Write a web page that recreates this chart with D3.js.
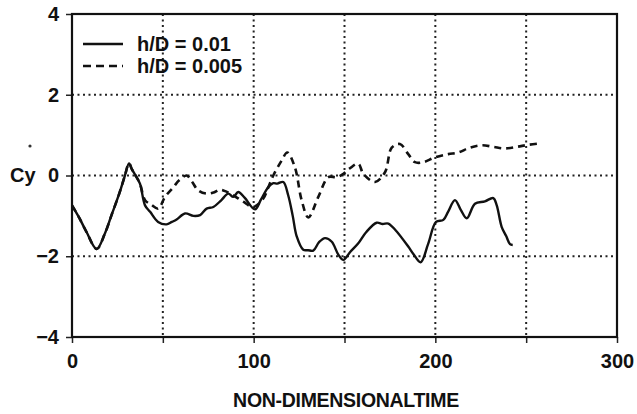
<!DOCTYPE html>
<html><head><meta charset="utf-8">
<script src="https://cdn.jsdelivr.net/npm/d3@7"></script>
<style>body{margin:0;background:#fff}svg{display:block}text{font-family:"Liberation Sans",Arial,sans-serif;font-weight:bold;fill:#111}</style>
</head><body><svg id="c" width="637" height="414"></svg>
<script>
const xTicks = [0, 100, 200, 300];
const yTicks = [-4, -2, 0, 2, 4];
const xGrid = [50, 100, 150, 200, 250];
const yGrid = [-2, 0, 2];
const seriesNames = ["h/D = 0.01", "h/D = 0.005"];
const solidT = [0,4,8,13.6,18,22,26,29,31.4,33,35,37.4,40.2,43,47.4,52,55,57.6,62.2,66.8,70.5,74.1,77.8,82,86,88.8,91.5,95,100.7,104,108,110.8,113,116.3,119,121.5,123.7,127.3,130,132.8,136,139.3,143,146.6,149.4,153,157.6,162,167.7,171,174.1,178,185.1,188,191.9,196,200.4,204.4,207,210.8,214,217.3,221.8,227.3,231.9,233.8,236.5,239,241.1,242.6];
const solidV = [-0.74,-1.05,-1.4,-1.82,-1.45,-0.95,-0.45,-0.02,0.30,0.15,0.0,-0.2,-0.74,-0.9,-1.15,-1.21,-1.15,-1.09,-0.94,-1.0,-0.98,-0.82,-0.78,-0.62,-0.45,-0.53,-0.41,-0.55,-0.84,-0.6,-0.29,-0.19,-0.2,-0.16,-0.49,-1.0,-1.51,-1.84,-1.85,-1.86,-1.65,-1.55,-1.64,-1.96,-2.09,-1.9,-1.68,-1.4,-1.17,-1.2,-1.19,-1.35,-1.76,-1.95,-2.15,-1.7,-1.15,-1.1,-0.9,-0.61,-0.85,-1.06,-0.7,-0.64,-0.56,-0.74,-1.27,-1.5,-1.7,-1.72];
const dashT = [0,4,8,13.6,18,22,26,29,31.4,33,35,37.4,40.2,43.5,47.5,51.2,55.8,59,63.1,66,69.5,74.1,78,81.5,85,88.8,94.3,99.8,105.3,108,110.8,115.4,118.5,122.7,126.4,130.1,135.6,141.1,145.7,149.4,153,157.6,160.4,166.8,172.3,176,180.5,185.1,188.8,193.4,199.8,207.1,212.6,219,225.5,231.9,238.3,244.8,251.2,258.5];
const dashV = [-0.74,-1.05,-1.4,-1.82,-1.45,-0.95,-0.45,-0.02,0.30,0.15,0.0,-0.2,-0.61,-0.72,-0.82,-0.53,-0.29,-0.12,0.0,-0.15,-0.37,-0.45,-0.42,-0.35,-0.4,-0.49,-0.65,-0.78,-0.57,-0.3,0.0,0.37,0.57,0.2,-0.61,-1.04,-0.53,-0.04,-0.04,0.04,0.18,0.29,0.04,-0.16,0.08,0.69,0.78,0.53,0.33,0.33,0.45,0.53,0.57,0.69,0.75,0.71,0.67,0.71,0.76,0.8];

const svg = d3.select("#c");
const x = d3.scaleLinear().domain([0,300]).range([72,617]);
const y = d3.scaleLinear().domain([-4,4]).range([337,14]);

// grid
svg.append("g").selectAll("line").data(xGrid).join("line")
  .attr("x1",d=>x(d)).attr("x2",d=>x(d)).attr("y1",y(4)).attr("y2",y(-4))
  .attr("stroke","#222").attr("stroke-width",2).attr("stroke-dasharray","2,3.5");
svg.append("g").selectAll("line").data(yGrid).join("line")
  .attr("x1",x(0)).attr("x2",x(300)).attr("y1",d=>y(d)).attr("y2",d=>y(d))
  .attr("stroke","#222").attr("stroke-width",2).attr("stroke-dasharray","2,3.5");

// axes
const xAxis = d3.axisBottom(x).tickValues(d3.range(0,301,50)).tickSize(6).tickFormat(d=>xTicks.includes(d)?d:"");
const gx = svg.append("g").attr("transform",`translate(0,${y(-4)})`).call(xAxis);
gx.select(".domain").remove();
gx.selectAll(".tick line").attr("stroke","#222").attr("stroke-width",1.5);
gx.selectAll(".tick text").attr("dy","0").attr("y",31).style("font-size","20px").style("font-family","Liberation Sans, Arial").style("font-weight","bold").attr("fill","#111");

const yAxis = d3.axisLeft(y).tickValues(yTicks).tickSize(6).tickFormat(d=>d<0?"\u2212"+Math.abs(d):d);
const gy = svg.append("g").attr("transform",`translate(${x(0)},0)`).call(yAxis);
gy.select(".domain").remove();
gy.selectAll(".tick line").attr("stroke","#222").attr("stroke-width",1.5);
gy.selectAll(".tick text").attr("x",-13).style("font-size","20px").style("font-family","Liberation Sans, Arial").style("font-weight","bold").attr("fill","#111");

// frame
svg.append("rect").attr("x",x(0)).attr("y",y(4)).attr("width",x(300)-x(0)).attr("height",y(-4)-y(4))
  .attr("fill","none").attr("stroke","#111").attr("stroke-width",2.2);

// lines
const line = (ts,vs)=>d3.line().x((d,i)=>x(ts[i])).y((d,i)=>y(vs[i])).curve(d3.curveCatmullRom.alpha(0.5))(ts);
svg.append("path").attr("d",line(dashT,dashV)).attr("fill","none").attr("stroke","#111").attr("stroke-width",2.6).attr("stroke-dasharray","7,5");
svg.append("path").attr("d",line(solidT,solidV)).attr("fill","none").attr("stroke","#111").attr("stroke-width",2.4);

// labels
svg.append("text").attr("x",10).attr("y",182).style("font-size","20px").text("Cy");
svg.append("circle").attr("cx",30).attr("cy",146).attr("r",1.6).attr("fill","#333");
svg.append("text").attr("x",346).attr("y",407).attr("text-anchor","middle").style("font-size","19.5px").style("letter-spacing","-0.3px").text("NON-DIMENSIONALTIME");

// legend
const leg = svg.append("g");
seriesNames.forEach((n,i)=>{
  const yy = 44 + i*22;
  leg.append("line").attr("x1",83).attr("x2",123).attr("y1",yy).attr("y2",yy).attr("stroke","#111").attr("stroke-width",2.6)
    .attr("stroke-dasharray", i===1?"8,5":null);
  leg.append("text").attr("x",137).attr("y",yy+7).style("font-size","20px").text(n);
});
</script></body></html>
